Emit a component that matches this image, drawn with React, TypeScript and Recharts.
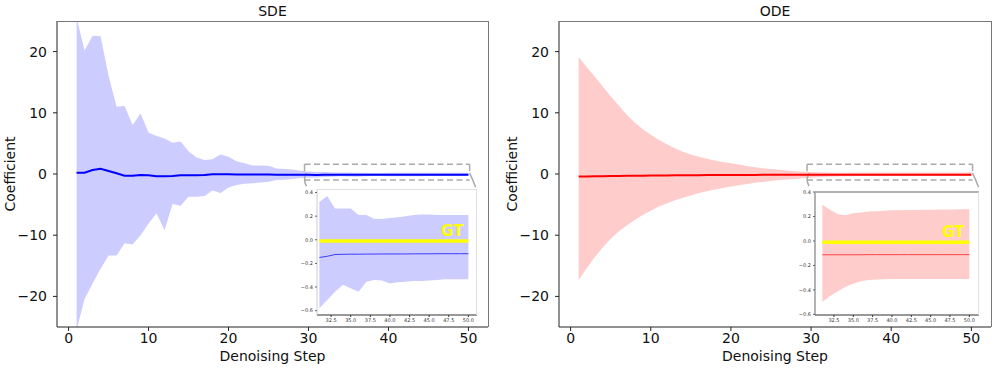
import React from 'react';
import {
  ComposedChart,
  Area,
  Line,
  XAxis,
  YAxis,
  ReferenceArea,
  ReferenceLine,
  CartesianGrid,
} from 'recharts';

// denoising steps
const steps = [
  1, 2, 3, 4, 5, 6, 7, 8, 9, 10, 11, 12, 13, 14, 15, 16, 17, 18, 19, 20, 21, 22, 23, 24, 25,
  26, 27, 28, 29, 30, 31, 32, 33, 34, 35, 36, 37, 38, 39, 40, 41, 42, 43, 44, 45, 46, 47, 48, 49, 50,
];

// SDE
const sdeMean = [
  0.22, 0.22, 0.66, 0.87, 0.49, 0.11, -0.27, -0.27, -0.16, -0.22, -0.38, -0.38, -0.33, -0.22, -0.22,
  -0.22, -0.16, -0.05, -0.05, -0.06, -0.08, -0.08, -0.09, -0.1, -0.1, -0.11, -0.12, -0.12, -0.13, -0.14,
  -0.15, -0.14, -0.125, -0.123, -0.122, -0.122, -0.121, -0.121, -0.12, -0.12, -0.12, -0.12, -0.119, -0.119,
  -0.119, -0.118, -0.118, -0.118, -0.118, -0.118,
];
const sdeHigh = [
  25.5, 20.2, 22.6, 22.5, 16.0, 11.0, 11.1, 8.0, 9.9, 6.8, 6.2, 5.8, 5.1, 5.3, 3.7, 2.7, 2.3, 2.4, 3.2,
  2.8, 2.1, 1.75, 1.4, 1.4, 1.35, 0.9, 0.8, 0.75, 0.55, 0.4,
  0.32, 0.37, 0.265, 0.265, 0.265, 0.21, 0.21, 0.175, 0.175, 0.185, 0.19, 0.2, 0.21, 0.215, 0.215, 0.21,
  0.21, 0.21, 0.21, 0.21,
];
const sdeLow = [
  -25.5, -20.4, -17.9, -15.5, -13.3, -13.3, -11.3, -11.5, -10.0, -8.1, -6.4, -9.2, -4.9, -5.2, -3.7, -3.7,
  -3.6, -2.7, -3.1, -2.2, -1.8, -1.6, -1.5, -1.4, -1.25, -1.0, -0.95, -0.8, -0.65, -0.6,
  -0.58, -0.51, -0.44, -0.38, -0.41, -0.44, -0.355, -0.34, -0.345, -0.37, -0.36, -0.355, -0.35, -0.35,
  -0.345, -0.34, -0.335, -0.335, -0.335, -0.335,
];

// ODE
const odeMean = [
  -0.42, -0.4, -0.38, -0.36, -0.34, -0.32, -0.3, -0.28, -0.27, -0.25, -0.24, -0.23, -0.22, -0.21, -0.2,
  -0.19, -0.18, -0.17, -0.165, -0.16, -0.155, -0.15, -0.145, -0.14, -0.135, -0.13, -0.125, -0.12, -0.118,
  -0.115, -0.113, -0.113, -0.113, -0.113, -0.113, -0.113, -0.112, -0.112, -0.112, -0.112, -0.112, -0.112,
  -0.112, -0.112, -0.112, -0.112, -0.112, -0.112, -0.112, -0.112,
];
const odeHigh = [
  19.1, 17.5, 15.95, 14.3, 12.7, 11.2, 9.7, 8.4, 7.3, 6.4, 5.6, 4.85, 4.2, 3.65, 3.2, 2.8, 2.5, 2.2, 1.95,
  1.75, 1.55, 1.3, 1.1, 0.95, 0.8, 0.68, 0.56, 0.46, 0.38, 0.33,
  0.295, 0.254, 0.218, 0.21, 0.226, 0.232, 0.24, 0.243, 0.246, 0.25, 0.251, 0.252, 0.253, 0.254, 0.255,
  0.256, 0.257, 0.258, 0.259, 0.26,
];
const odeLow = [
  -17.3, -15.4, -13.6, -12.0, -10.6, -9.4, -8.4, -7.5, -6.7, -6.0, -5.3, -4.8, -4.3, -3.9, -3.5, -3.1, -2.8,
  -2.55, -2.3, -2.05, -1.85, -1.65, -1.45, -1.3, -1.15, -1.0, -0.9, -0.8, -0.7, -0.6,
  -0.497, -0.45, -0.41, -0.375, -0.35, -0.33, -0.32, -0.315, -0.312, -0.31, -0.31, -0.31, -0.31, -0.31,
  -0.31, -0.31, -0.31, -0.31, -0.31, -0.31,
];

const xTicks = [0, 10, 20, 30, 40, 50];
const yTicks = [-20, -10, 0, 10, 20];
const insetXTicks = [32.5, 35, 37.5, 40, 42.5, 45, 47.5, 50];
const insetYTicks = [-0.6, -0.4, -0.2, 0, 0.2, 0.4];
const insetStart = 31;
const gtLevel = -0.01;
// zoomed window marked on the main axes
const zoomBox = { x1: 29.5, x2: 50.15, y1: -1, y2: 1.6 };

const font = '"DejaVu Sans", sans-serif';
const minus = (s: string) => s.replace('-', '\u2212');

type Row = { step: number; band: [number, number]; mean: number };

const build = (mean: number[], low: number[], high: number[]): Row[] =>
  steps.map((s, i) => ({ step: s, band: [low[i], high[i]], mean: mean[i] }));

const sdeData = build(sdeMean, sdeLow, sdeHigh);
const odeData = build(odeMean, odeLow, odeHigh);

// dashed box + bracket connectors
const ZoomMark = (props: any) => {
  const { x, y, width, height } = props;
  const r = x + width;
  const col = '#aaaaaa';
  return (
    <g fill="none" stroke={col} strokeWidth={1.5}>
      <path d={`M${x},${y}H${r}`} strokeDasharray="6 3.5" />
      <path d={`M${x},${y + height}H${r}`} strokeDasharray="6 3.5" />
      <path d={`M${x},${y}V${y + 7}`} />
      <path d={`M${r},${y}V${y + 7}`} />
      <path d={`M${x + 2},${y + 9}Q${x - 2},${y + 15} ${x + 2},${y + 22}`} />
      <path d={`M${r},${y + 9}Q${r + 3},${y + 15} ${r + 6},${y + 23}`} />
    </g>
  );
};

type InsetProps = {
  data: Row[];
  line: string;
  band: string;
  left: number;
  top: number;
  plotW: number;
  plotH: number;
  xDomain: [number, number];
  yDomain: [number, number];
  leftSpine: string;
  topSpine: string;
  topWidth: number;
};

function Inset({ data, line, band, left, top, plotW, plotH, xDomain, yDomain, leftSpine, topSpine, topWidth }: InsetProps) {
  const rows = data.filter((d) => d.step >= insetStart);
  const ml = 4, yw = 16, mt = 4, xh = 10, mb = 2, mr = 5;
  return (
    <>
      <div style={{ position: 'absolute', left: left - ml - yw, top: top - mt }}>
        <ComposedChart
          width={ml + yw + plotW + mr}
          height={mt + plotH + xh + mb}
          data={rows}
          margin={{ top: mt, right: mr, bottom: mb, left: ml }}
        >
          <CartesianGrid horizontal={false} vertical={false} fill="#ffffff" stroke="none" />
          <XAxis
            dataKey="step"
            type="number"
            domain={xDomain}
            allowDataOverflow
            ticks={insetXTicks}
            interval={0}
            height={xh}
            tickSize={2}
            tickMargin={1}
            tickFormatter={(v: number) => v.toFixed(1)}
            tick={{ fontSize: 5, fill: '#333' }}
            stroke="#333"
          />
          <YAxis
            type="number"
            domain={yDomain}
            allowDataOverflow
            ticks={insetYTicks}
            interval={0}
            width={yw}
            tickSize={2}
            tickMargin={2}
            tickFormatter={(v: number) => minus(v.toFixed(1))}
            tick={{ fontSize: 5, fill: '#333' }}
            axisLine={{ stroke: leftSpine }}
            tickLine={{ stroke: '#666' }}
          />
          <Area
            dataKey="band"
            type="linear"
            stroke="none"
            fill={band}
            fillOpacity={1}
            isAnimationActive={false}
            activeDot={false}
          />
          <Line dataKey="mean" type="linear" stroke={line} strokeWidth={1} dot={false} isAnimationActive={false} />
          <ReferenceLine
            segment={[
              { x: insetStart, y: gtLevel },
              { x: 50, y: gtLevel },
            ]}
            stroke="#ffff00"
            strokeWidth={3.5}
            label={{
              value: 'GT',
              position: 'insideBottomRight',
              offset: 5,
              fill: '#ffff00',
              fontSize: 15,
              fontWeight: 'bold',
            }}
          />
        </ComposedChart>
      </div>
      <div
        style={{
          position: 'absolute',
          left,
          top: top - (topWidth - 1),
          width: plotW,
          height: plotH + (topWidth - 1),
          boxSizing: 'border-box',
          borderTop: `${topWidth}px solid ${topSpine}`,
          borderRight: '1px solid #e0e0e0',
          pointerEvents: 'none',
        }}
      />
    </>
  );
}

type PanelProps = {
  title: string;
  data: Row[];
  line: string;
  band: string;
  left: number;
  width: number;
  ml: number;
  mr: number;
};

const TOP = 21;
const BOTTOM = 327;
const H = 368;

function Panel({ title, data, line, band, left, width, ml, mr }: PanelProps) {
  const yw = 40;
  const xh = 30;
  const plotL = left + ml + yw;
  const plotW = width - ml - yw - mr;
  return (
    <>
      <div
        style={{
          position: 'absolute',
          left: plotL,
          top: 4,
          width: plotW,
          textAlign: 'center',
          fontSize: 14,
          lineHeight: '14px',
          color: '#111',
        }}
      >
        {title}
      </div>
      <div style={{ position: 'absolute', left, top: 0 }}>
        <ComposedChart
          width={width}
          height={H}
          data={data}
          margin={{ top: TOP, right: mr, bottom: H - BOTTOM - xh, left: ml }}
        >
          <XAxis
            dataKey="step"
            type="number"
            domain={[-1.45, 52.45]}
            allowDataOverflow
            ticks={xTicks}
            interval={0}
            height={xh}
            tickSize={4}
            tickMargin={2}
            stroke="#222"
            tick={{ fontSize: 14, fill: '#111' }}
            label={{ value: 'Denoising Step', position: 'insideBottom', offset: -4, fontSize: 14, fill: '#111' }}
          />
          <YAxis
            type="number"
            domain={[-25, 25]}
            allowDataOverflow
            ticks={yTicks}
            interval={0}
            width={yw}
            tickSize={4}
            tickMargin={6}
            stroke="#222"
            tickFormatter={(v: number) => minus(String(v))}
            tick={{ fontSize: 14, fill: '#111' }}
            label={{
              value: 'Coefficient',
              angle: -90,
              position: 'insideLeft',
              offset: -7,
              fontSize: 14,
              fill: '#111',
              style: { textAnchor: 'middle' },
            }}
          />
          <Area
            dataKey="band"
            type="linear"
            stroke="none"
            fill={band}
            fillOpacity={1}
            isAnimationActive={false}
            activeDot={false}
          />
          <Line dataKey="mean" type="linear" stroke={line} strokeWidth={2} dot={false} isAnimationActive={false} />
          <ReferenceArea
            x1={zoomBox.x1}
            x2={zoomBox.x2}
            y1={zoomBox.y1}
            y2={zoomBox.y2}
            shape={<ZoomMark />}
          />
        </ComposedChart>
      </div>
      <div
        style={{
          position: 'absolute',
          left: plotL,
          top: TOP,
          width: plotW + 1,
          height: BOTTOM - TOP,
          boxSizing: 'border-box',
          borderTop: '1px solid #777',
          borderRight: '1px solid #777',
          pointerEvents: 'none',
        }}
      />
    </>
  );
}

export default function App() {
  return (
    <div
      style={{
        position: 'absolute',
        left: 0,
        top: 0,
        width: 997,
        height: 368,
        background: '#fff',
        fontFamily: font,
        overflow: 'hidden',
      }}
    >
      <Panel title="SDE" data={sdeData} line="#0000ff" band="#ccccff" left={0} width={500} ml={17} mr={12} />
      <Panel title="ODE" data={odeData} line="#ff0000" band="#ffcccc" left={500} width={497} ml={19} mr={6} />
      <Inset
        data={sdeData}
        line="#3c3cff"
        band="#ccccff"
        left={317}
        top={189}
        plotW={160}
        plotH={126}
        xDomain={[30.7, 51.1]}
        yDomain={[-0.637, 0.43]}
        leftSpine="#cccccc"
        topSpine="#e0e0e0"
        topWidth={1}
      />
      <Inset
        data={odeData}
        line="#ff4040"
        band="#ffcccc"
        left={815}
        top={192}
        plotW={164}
        plotH={123}
        xDomain={[30.05, 51.25]}
        yDomain={[-0.605, 0.4]}
        leftSpine="#666666"
        topSpine="#b0b0b0"
        topWidth={2}
      />
    </div>
  );
}
